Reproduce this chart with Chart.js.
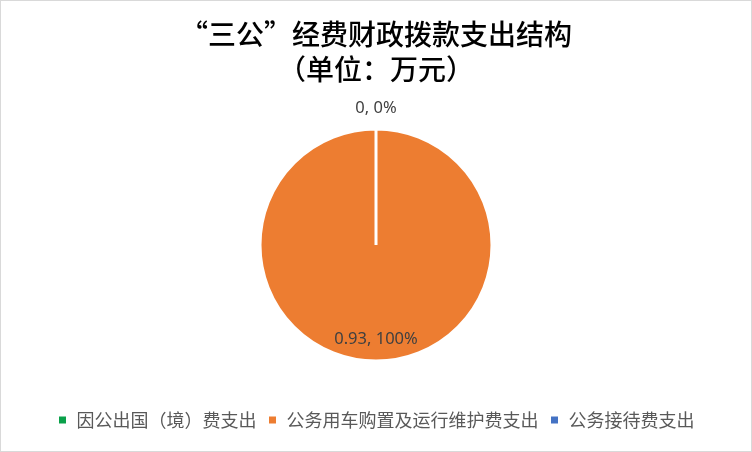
<html>
<head>
  <meta charset="utf-8">
  <title>三公经费</title>
  <script src="https://cdn.jsdelivr.net/npm/chart.js@4.4.0/dist/chart.umd.min.js"></script>
  <style>
    html, body { margin: 0; padding: 0; background: #fff; }
    #wrap { width: 752px; height: 452px; }
  </style>
</head>
<body>
  <div id="wrap"><canvas id="pieChart" width="752" height="452"></canvas></div>

<script>
  // data
  var categories = ['因公出国（境）费支出', '公务用车购置及运行维护费支出', '公务接待费支出'];
  var amounts = [0, 0.93, 0];
  var sliceColors = ['#0aa14a', '#ed7d31', '#4472c4'];
  var titleLines = ['“三公”经费财政拨款支出结构', '（单位：万元）'];

  // thin frame round the whole picture
  var framePlugin = {
    id: 'frame',
    beforeDraw: function (chart) {
      var c = chart.ctx;
      c.save();
      c.fillStyle = '#fff';
      c.fillRect(0, 0, chart.width, chart.height);
      c.strokeStyle = '#d9d9d9';
      c.lineWidth = 1;
      c.strokeRect(0.5, 0.5, chart.width - 1, chart.height - 1);
      c.restore();
    }
  };

  // "value, percent" labels like the office chart
  var valueLabels = {
    id: 'valueLabels',
    afterDatasetsDraw: function (chart) {
      var c = chart.ctx;
      var meta = chart.getDatasetMeta(0);
      var data = chart.data.datasets[0].data;
      var total = data.reduce(function (a, b) { return a + b; }, 0);
      var zeroDone = false;
      c.save();
      c.font = '16.5px "Noto Sans", sans-serif';
      c.fillStyle = '#404040';
      c.textAlign = 'center';
      c.textBaseline = 'middle';
      meta.data.forEach(function (arc, i) {
        var p = arc.getProps(['x', 'y', 'startAngle', 'endAngle', 'outerRadius'], true);
        var mid = (p.startAngle + p.endAngle) / 2;
        var r;
        if (data[i] === 0) {
          if (zeroDone) return;   // both empty slices sit at the top, one label
          zeroDone = true;
          r = p.outerRadius + 21;
        } else {
          r = p.outerRadius * 0.81;
        }
        var txt = data[i] + ', ' + Math.round(data[i] / total * 100) + '%';
        c.fillText(txt, p.x + Math.cos(mid) * r, p.y + Math.sin(mid) * r);
      });
      c.restore();
    }
  };

  var ctx = document.getElementById('pieChart').getContext('2d');
  var chart = new Chart(ctx, {
    type: 'pie',
    data: {
      labels: categories,
      datasets: [{
        data: amounts,
        backgroundColor: sliceColors,
        borderColor: '#ffffff',
        borderWidth: 3,
        radius: 116
      }]
    },
    options: {
      responsive: false,
      animation: false,
      layout: { padding: { top: 0, bottom: 13, left: 10, right: 10 } },
      plugins: {
        title: {
          display: true,
          text: titleLines,
          color: '#000',
          font: { family: '"Noto Sans CJK SC"', size: 28, weight: 500, lineHeight: 1.25 },
          padding: { top: 17, bottom: 3 }
        },
        legend: {
          position: 'bottom',
          labels: {
            color: '#595959',
            font: { family: '"Noto Sans CJK SC"', size: 18 },
            usePointStyle: true,
            pointStyle: 'rect',
            boxWidth: 10,
            boxHeight: 10,
            padding: 11
          }
        },
        tooltip: { enabled: false }
      }
    },
    plugins: [framePlugin, valueLabels]
  });
</script>
</body>
</html>
